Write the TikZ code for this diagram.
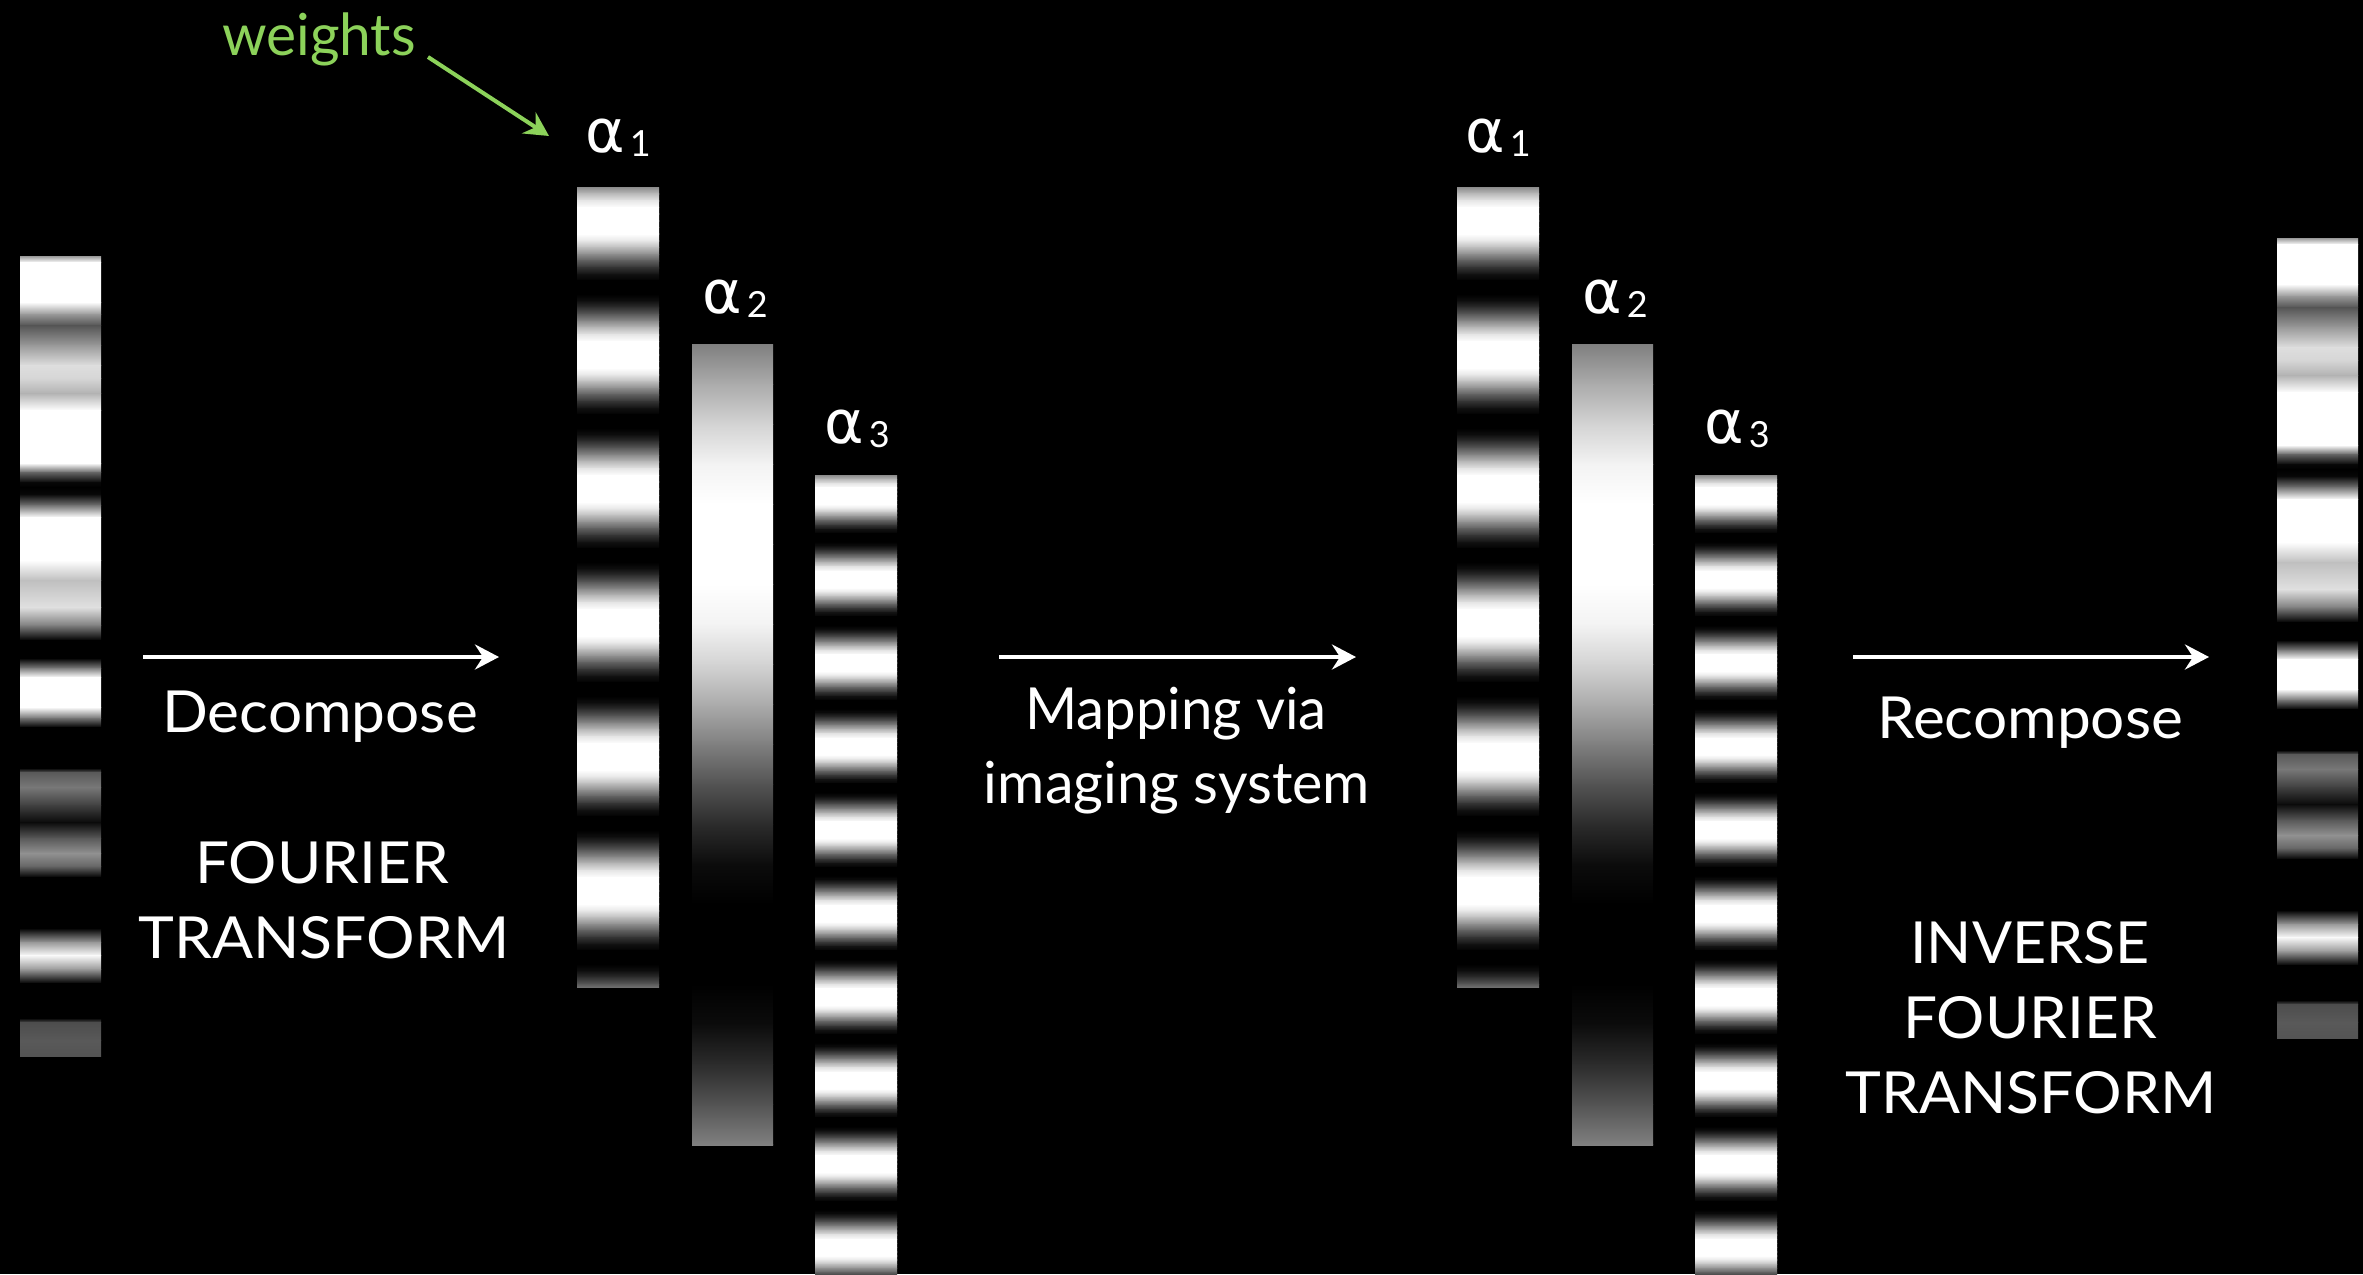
\documentclass[tikz,border=0pt]{standalone}
\usepackage{fontspec}
\usepackage{graphicx}
\setmainfont{Lato}
\newfontfamily\alphfont{DejaVu Sans}
\usetikzlibrary{arrows.meta}
\definecolor{wgreen}{RGB}{140,210,90}
% sinusoidal stripe bar: x0 x1 y0 H P c A
\newcommand\wavebar[7]{%
  \begin{scope}
  \clip (#1,#3) rectangle (#2,{#3+#4});
  \pgfmathsetmacro\wbdt{#5/20}%
  \pgfmathtruncatemacro\wbn{ceil(#4/\wbdt)-1}%
  \foreach \wbi in {0,...,\wbn}{%
    \pgfmathsetmacro\wbta{\wbi*\wbdt}%
    \pgfmathsetmacro\wbtb{(\wbi+1)*\wbdt}%
    \pgfmathsetmacro\wbga{100*max(0,min(1,#6+#7*sin(360*(\wbta/#5))))}%
    \pgfmathsetmacro\wbgb{100*max(0,min(1,#6+#7*sin(360*(\wbtb/#5))))}%
    \pgfmathsetmacro\wbya{#3+\wbta}%
    \pgfmathsetmacro\wbyb{#3+\wbtb+0.6}%
    \shade[top color=white!\wbga!black, bottom color=white!\wbgb!black] (#1,\wbya) rectangle (#2,\wbyb);
  }%
  \end{scope}%
}
% composite bar: x0 x1 y0
\newcommand\compbar[3]{%
  \begin{scope}
  \clip (#1,#3) rectangle (#2,{#3+800});
  \foreach \sy/\sg [remember=\sy as \py (initially 0), remember=\sg as \pg (initially 60)] in
   {6/100, 46/100, 58/60, 69/33, 89/60, 109/87, 122/84, 137/70, 154/100, 207/100,
    216/40, 226/3, 231/0, 238/3, 249/45, 261/100, 304/100, 324/75, 351/88, 369/50,
    384/0, 402/0, 412/50, 421/100, 451/100, 462/45, 471/0, 512/0, 516/35, 531/47,
    549/25, 566/4, 582/35, 597/57, 610/40, 621/0, 672/0, 686/60, 699/98, 713/60,
    727/0, 762/0, 766/30, 784/35, 800/33}{%
    \shade[top color=white!\pg!black, bottom color=white!\sg!black] (#1,{#3+\py}) rectangle (#2,{#3+\sy+0.6});
  }%
  \end{scope}%
}
\tikzset{
  txt/.style={text=white, inner sep=0pt, anchor=base, font=\fontsize{58}{69}\selectfont},
  lbl/.style={text=white, inner sep=0pt, anchor=base west},
  arr/.style={draw=white, line width=4pt, -{Stealth[length=24pt,width=25pt,inset=8pt]}},
  garr/.style={draw=wgreen, line width=4pt, -{Stealth[length=24pt,width=25pt,inset=8pt]}}
}
\newcommand\hs[2]{\scalebox{#1}[1]{#2}}
\newcommand\alab[1]{{\alphfont\fontsize{60}{60}\selectfont α}\hspace{5pt}\raisebox{-4pt}{\fontsize{36}{36}\selectfont #1}}
\begin{document}
\begin{tikzpicture}[x=1pt,y=-1pt]
\useasboundingbox (0,0) rectangle (2363,1274);
\fill[black] (0,0) rectangle (2363,1274);

% composite input and output bars
\compbar{20}{101}{256}
\compbar{2277}{2358}{238}

% group 1 components
\wavebar{577}{659}{187}{800}{134}{0.55}{0.6}
\wavebar{692}{773}{344}{801}{800}{0.5}{0.56}
\wavebar{815}{897}{475}{800}{83.5}{0.55}{0.6}
% group 2 components
\wavebar{1457}{1539}{187}{800}{134}{0.55}{0.6}
\wavebar{1572}{1653}{344}{801}{800}{0.5}{0.56}
\wavebar{1695}{1777}{475}{800}{83.5}{0.55}{0.6}

% alpha labels
\node[lbl] (ga1) at (585,152) {\alab{1}};
\node[lbl] (ga2) at (702,313) {\alab{2}};
\node[lbl] (ga3) at (824,443) {\alab{3}};
\node[lbl] (gb1) at (1465,152) {\alab{1}};
\node[lbl] (gb2) at (1582,313) {\alab{2}};
\node[lbl] (gb3) at (1704,443) {\alab{3}};

% weights annotation
\node[txt, text=wgreen] (weights) at (319,55) {\hs{0.98}{weights}};
\coordinate (ws) at (428,57);
\coordinate (we) at (549,136);
\draw[garr] (ws) -- (we);

% arrows
\coordinate (a1s) at (143,657);
\coordinate (a1e) at (499,657);
\coordinate (a2s) at (999,657);
\coordinate (a2e) at (1356,657);
\coordinate (a3s) at (1853,657);
\coordinate (a3e) at (2209,657);
\draw[arr] (a1s) -- (a1e);
\draw[arr] (a2s) -- (a2e);
\draw[arr] (a3s) -- (a3e);

% texts
\node[txt] (decomp) at (320,732) {\hs{1.04}{Decompose}};
\node[txt] (ft1) at (322,883) {\hs{1.04}{FOURIER}};
\node[txt] (ft2) at (324,958) {\hs{1.046}{TRANSFORM}};
\node[txt] (map1) at (1176,729) {\hs{0.97}{Mapping via}};
\node[txt] (map2) at (1177,803) {\hs{0.99}{imaging system}};
\node[txt] (recomp) at (2030,738) {\hs{1.04}{Recompose}};
\node[txt] (inv1) at (2030,963) {\hs{1.02}{INVERSE}};
\node[txt] (inv2) at (2030,1038) {\hs{1.04}{FOURIER}};
\node[txt] (inv3) at (2031,1113) {\hs{1.046}{TRANSFORM}};
\end{tikzpicture}
\end{document}
